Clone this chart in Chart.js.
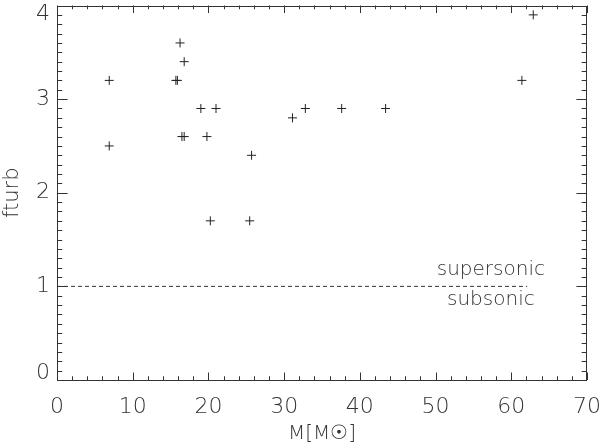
<!DOCTYPE html>
<html>
<head>
<meta charset="utf-8">
<script src="https://cdn.jsdelivr.net/npm/chart.js@4/dist/chart.umd.min.js"></script>
<style>
  html, body { margin: 0; padding: 0; background: #fff; }
</style>
</head>
<body>
<canvas id="fturbChart" width="600" height="447"></canvas>
<script>
// stellar mass (M_sun) and fturb for each source
var massValues  = [6.9, 6.9, 15.7, 15.9, 16.25, 16.8, 16.5, 16.8, 19.0, 21.0, 19.8, 25.7, 20.25, 25.45, 31.1, 32.8, 37.6, 43.4, 61.4, 62.9];
var fturbValues = [3.2, 2.5, 3.2, 3.2, 3.6, 3.4, 2.6, 2.6, 2.9, 2.9, 2.6, 2.4, 1.7, 1.7, 2.8, 2.9, 2.9, 2.9, 3.2, 3.9];

var xTicks = [0, 10, 20, 30, 40, 50, 60, 70];
var yTicks = [0, 1, 2, 3, 4];

// sonic line fturb = 1
var sonicLevel = 1;
var sonicExtent = [0, 62.1];
var regionLabels = ['supersonic', 'subsonic'];
var regionLabelX = 57.3;
var regionLabelY = [1.18, 0.86];

var FONT = "'DejaVu Sans', sans-serif";
var INK = '#333';
var TICK_FONT = '200 22px ' + FONT;

var points = massValues.map(function (m, i) { return { x: m, y: fturbValues[i] }; });
var sonicLine = sonicExtent.map(function (x) { return { x: x, y: sonicLevel }; });

// IDL style box with inward ticks, y labels kept inside the box, region labels
var framePlugin = {
  id: 'frame',
  afterDatasetsDraw: function (chart) {
    var a = chart.chartArea, xs = chart.scales.x, ys = chart.scales.y, c = chart.ctx;
    c.save();
    c.strokeStyle = INK;
    c.lineWidth = 1;
    c.beginPath();
    c.rect(Math.round(a.left) + 0.5, Math.round(a.top) + 0.5,
           Math.round(a.right - a.left) - 1, Math.round(a.bottom - a.top) - 1);
    var v, p, len;
    for (v = 0; v <= 70; v += 2) {
      p = Math.round(xs.getPixelForValue(v)) + 0.5;
      len = v % 10 === 0 ? 7.5 : 3.75;
      c.moveTo(p, a.bottom); c.lineTo(p, a.bottom - len);
      c.moveTo(p, a.top); c.lineTo(p, a.top + len);
    }
    for (var i = 0; i <= 40; i++) {
      p = Math.round(ys.getPixelForValue(i / 10)) + 0.5;
      len = i % 10 === 0 ? 10.6 : 5.3;
      c.moveTo(a.left, p); c.lineTo(a.left + len, p);
      c.moveTo(a.right, p); c.lineTo(a.right - len, p);
    }
    c.stroke();

    c.fillStyle = INK;
    // y tick labels, first and last pulled inside the axis range
    c.font = TICK_FONT;
    c.textAlign = 'right';
    c.textBaseline = 'middle';
    yTicks.forEach(function (t) {
      var y = ys.getPixelForValue(t);
      y = Math.min(Math.max(y, a.top + 9), a.bottom - 7);
      c.fillText(String(t), a.left - 7, y);
    });

    c.font = '200 20px ' + FONT;
    c.textAlign = 'center';
    regionLabels.forEach(function (t, k) {
      c.fillText(t, xs.getPixelForValue(regionLabelX), ys.getPixelForValue(regionLabelY[k]));
    });
    c.restore();
  }
};

var ctx = document.getElementById('fturbChart').getContext('2d');

var fturbChart = new Chart(ctx, {
  type: 'scatter',
  data: {
    datasets: [{
      label: 'fturb',
      data: points,
      pointStyle: 'cross',
      pointRadius: 4.5,
      pointBorderWidth: 1,
      borderColor: '#222',
      backgroundColor: '#222'
    }, {
      type: 'line',
      label: 'sonic',
      data: sonicLine,
      borderColor: INK,
      borderWidth: 1,
      borderDash: [4, 3],
      pointRadius: 0,
      fill: false
    }]
  },
  options: {
    responsive: false,
    animation: false,
    layout: { padding: { top: 5, right: 13, left: 0, bottom: 0 } },
    plugins: {
      legend: { display: false },
      tooltip: { enabled: false }
    },
    scales: {
      x: {
        type: 'linear',
        min: 0,
        max: 70,
        afterBuildTicks: function (s) { s.ticks = xTicks.map(function (v) { return { value: v }; }); },
        afterFit: function (s) { s.height = 67; s.paddingLeft = 0; s.paddingRight = 0; },
        grid: { display: false, drawTicks: false },
        border: { display: false },
        ticks: { padding: 14, color: INK, maxRotation: 0, font: { family: FONT, size: 22, weight: '200' } },
        title: {
          display: true,
          text: 'M[M\u2609]',
          color: INK,
          padding: { top: 0, bottom: 1 },
          font: { family: FONT, size: 20, weight: '200' }
        }
      },
      y: {
        type: 'linear',
        min: 0,
        max: 4,
        afterBuildTicks: function (s) { s.ticks = yTicks.map(function (v) { return { value: v }; }); },
        afterFit: function (s) { s.width = 57; s.paddingTop = 0; s.paddingBottom = 0; },
        grid: { display: false, drawTicks: false },
        border: { display: false },
        ticks: { display: false },
        title: {
          display: true,
          text: 'fturb',
          color: INK,
          padding: { top: 0, bottom: 0 },
          font: { family: FONT, size: 21, weight: '200' }
        }
      }
    }
  },
  plugins: [framePlugin]
});
</script>
</body>
</html>
